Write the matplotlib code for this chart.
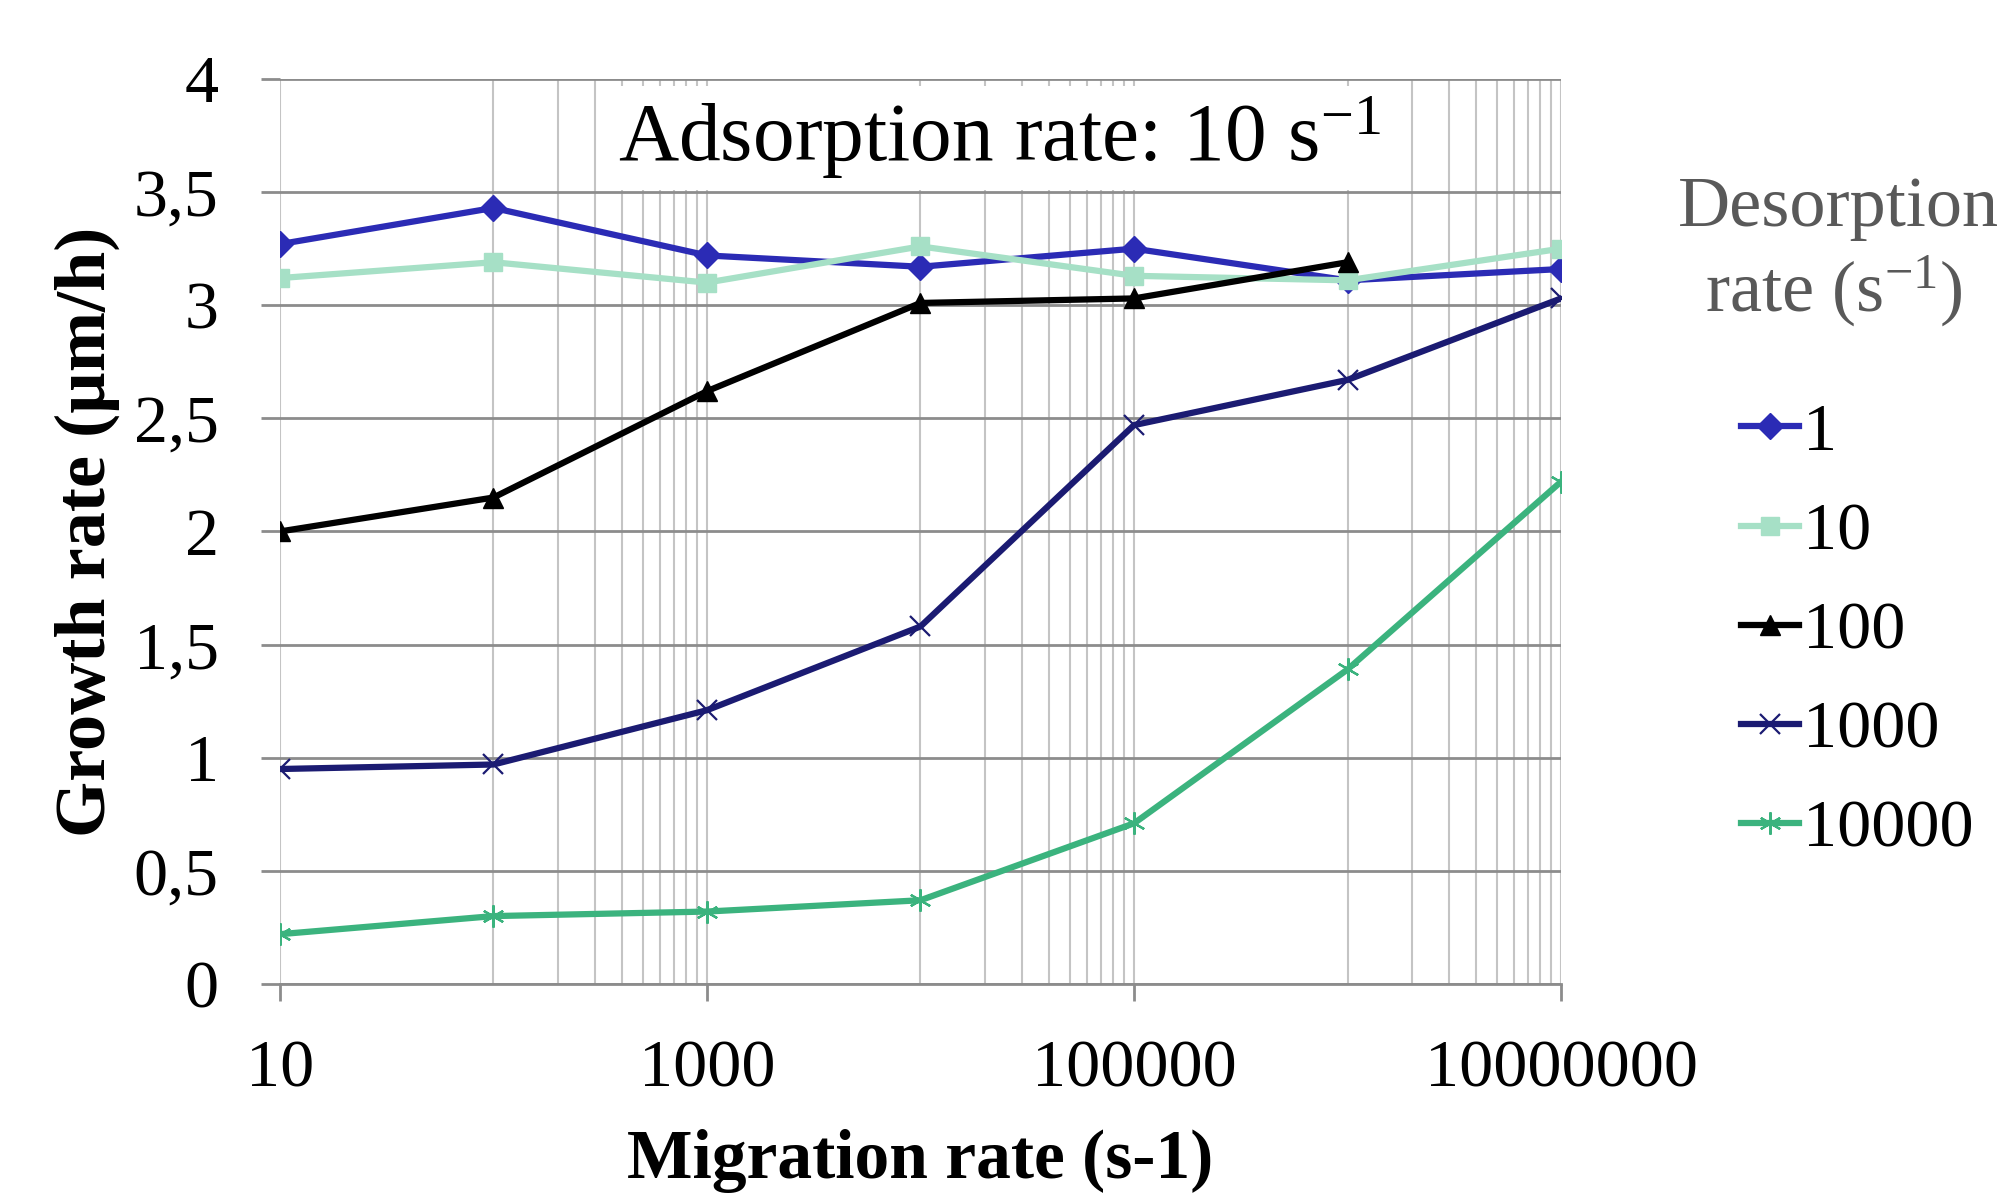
import numpy as np
import matplotlib
matplotlib.use("Agg")
from matplotlib import pyplot as plt
from matplotlib.ticker import FixedLocator, FuncFormatter, NullFormatter

plt.rcParams['font.family'] = ['Liberation Serif', 'DejaVu Serif']
plt.rcParams['mathtext.fontset'] = 'custom'
plt.rcParams['mathtext.rm'] = 'Liberation Serif'
plt.rcParams['mathtext.it'] = 'Liberation Serif:italic'

# migration rate (s-1)
migration = [10, 100, 1000, 10000, 100000, 1000000, 10000000]

# growth rate (um/h) per desorption rate
desorption_labels = ['1', '10', '100', '1000', '10000']
g_1 = [3.27, 3.43, 3.22, 3.17, 3.25, 3.11, 3.16]
g_10 = [3.12, 3.19, 3.10, 3.26, 3.13, 3.11, 3.25]
g_100 = [2.00, 2.15, 2.62, 3.01, 3.03, 3.19, np.nan]
g_1000 = [0.95, 0.97, 1.21, 1.58, 2.47, 2.67, 3.03]
g_10000 = [0.22, 0.30, 0.32, 0.37, 0.71, 1.39, 2.22]

x_ticks = [10, 1000, 100000, 10000000]
y_ticks = [0, 0.5, 1, 1.5, 2, 2.5, 3, 3.5, 4]

fig = plt.figure(figsize=(19.98, 12.02), dpi=100)
ax = fig.add_axes([0.1401, 0.1814, 0.6412, 0.7529])

ax.set_xscale('log')
ax.set_xlim(10, 1e7)
ax.set_ylim(0, 4)

# Excel-style log base 100 axis: minor lines at 10*k*major
minor = [m * 10 * k for m in x_ticks[:-1] for k in range(1, 10)]
ax.xaxis.set_major_locator(FixedLocator(x_ticks))
ax.xaxis.set_minor_locator(FixedLocator(minor))
ax.xaxis.set_major_formatter(FuncFormatter(lambda v, p: f"{int(round(v))}"))
ax.xaxis.set_minor_formatter(NullFormatter())
ax.yaxis.set_major_locator(FixedLocator(y_ticks))
ax.yaxis.set_major_formatter(FuncFormatter(lambda v, p: f"{v:g}".replace('.', ',')))

ax.grid(which='major', axis='y', color='#8c8c8c', lw=2)
ax.grid(which='both', axis='x', color='#c4c4c4', lw=1.5)
ax.set_axisbelow(True)

for s in ['top', 'right', 'left']:
    ax.spines[s].set_visible(False)
ax.spines['bottom'].set_color('#8c8c8c')
ax.spines['bottom'].set_linewidth(2)

ax.tick_params(axis='y', length=14, width=2, color='#8c8c8c', pad=30, labelsize=49)
ax.tick_params(axis='x', which='major', length=12, width=2, color='#8c8c8c', pad=28, labelsize=49)
ax.tick_params(axis='x', which='minor', length=0)

lw = 4.5
ax.plot(migration, g_1, color='#2b2bb5', lw=lw, marker='D', ms=13, label=desorption_labels[0])
ax.plot(migration, g_10, color='#a6e0c6', lw=lw, marker='s', ms=13, label=desorption_labels[1])
ax.plot(migration, g_100, color='black', lw=lw, marker='^', ms=15, label=desorption_labels[2])
ax.plot(migration, g_1000, color='#1b1b72', lw=lw, marker='x', ms=15, mew=1.6, label=desorption_labels[3])
ax.plot(migration, g_10000, color='#3bb37e', lw=lw, marker=(6, 2, 0), ms=16, mew=1.6, label=desorption_labels[4])

ax.text(0.562, 0.935, r'Adsorption rate: 10 s$^{\mathrm{-1}}$', transform=ax.transAxes,
        ha='center', va='center', fontsize=60,
        bbox=dict(facecolor='white', edgecolor='none', pad=6))

ax.set_xlabel('Migration rate (s-1)', fontsize=50, fontweight='bold')
ax.set_ylabel('Growth rate (µm/h)', fontsize=52, fontweight='bold')
ax.xaxis.set_label_coords(0.5, -0.16)
ax.yaxis.set_label_coords(-0.125, 0.5)

fig.text(0.92, 0.812, 'Desorption', fontsize=52, color='#595959', ha='center', va='baseline')
fig.text(0.918, 0.742, r'rate (s$^{\mathrm{-1}}$)', fontsize=52, color='#595959', ha='center', va='baseline')

ax.legend(loc='upper left', bbox_to_anchor=(0.8715, 0.665), bbox_transform=fig.transFigure,
          frameon=False, fontsize=49, handlelength=0.85, handletextpad=0.05,
          labelspacing=0.55, borderpad=0, borderaxespad=0)

fig.savefig('out.png', dpi=100)
